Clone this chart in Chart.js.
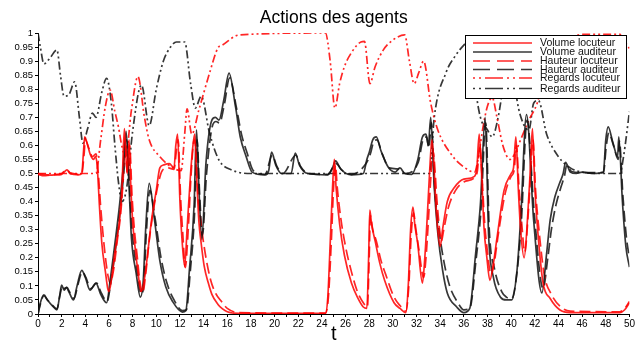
<!DOCTYPE html>
<html><head><meta charset="utf-8">
<script src="https://cdn.jsdelivr.net/npm/chart.js@4/dist/chart.umd.min.js"></script>
<style>html,body{margin:0;padding:0;background:#fff}#wrap{width:636px;height:342px}</style>
</head><body><div id="wrap"><canvas id="c" width="636" height="342"></canvas></div>
<script>
const chartTitle = "Actions des agents";
const xTitle = "t";
const seriesNames = ["Volume locuteur","Volume auditeur","Hauteur locuteur","Hauteur auditeur","Regards locuteur","Regards auditeur"];

const volLocT = [0,0.5,1,1.5,2,2.2,2.45,2.7,3,3.4,3.7,3.85,3.95,4.2,4.4,4.7,4.85,5.0,5.2,5.4,5.7,5.9,6.0,6.2,6.5,6.9,7.1,7.3,7.45,7.55,7.7,7.85,8.0,8.2,8.45,8.7,8.9,9.2,9.6,10.0,10.3,10.6,11.1,11.5,11.65,11.8,12.0,12.2,12.4,12.6,12.9,13.1,13.25,13.4,13.6,13.8,14.05,14.4,14.7,15.2,15.6,16,17,24.3,24.5,24.7,24.9,25.05,25.2,25.5,25.9,26.5,27,27.5,27.8,27.95,28.05,28.2,28.5,28.9,29.3,30.1,30.6,31.1,31.3,31.5,31.7,31.85,32.1,32.5,32.7,32.9,33.1,33.3,33.45,33.6,33.8,34.0,34.2,34.6,35.2,36,36.9,37.1,37.3,37.5,37.7,37.95,38.2,38.5,38.8,39.4,40.0,40.2,40.4,40.6,40.8,41.1,41.4,41.6,41.8,42.0,42.3,42.7,43.3,44.1,45,49.2,49.6,50];
const volLocV = [0.497,0.492,0.494,0.495,0.497,0.505,0.513,0.5,0.497,0.495,0.5,0.58,0.63,0.6,0.57,0.55,0.56,0.53,0.38,0.25,0.15,0.09,0.08,0.12,0.22,0.34,0.45,0.66,0.55,0.5,0.62,0.45,0.33,0.24,0.15,0.08,0.1,0.19,0.335,0.44,0.52,0.53,0.535,0.52,0.6,0.64,0.4,0.25,0.17,0.3,0.5,0.6,0.64,0.5,0.33,0.25,0.17,0.11,0.07,0.035,0.018,0.008,0.002,0.002,0.06,0.25,0.45,0.55,0.45,0.32,0.21,0.11,0.06,0.025,0.02,0.2,0.37,0.32,0.26,0.18,0.12,0.04,0.02,0.005,0.1,0.3,0.38,0.32,0.25,0.11,0.2,0.34,0.5,0.62,0.55,0.42,0.3,0.24,0.3,0.4,0.45,0.48,0.49,0.52,0.64,0.5,0.31,0.2,0.12,0.18,0.27,0.44,0.5,0.52,0.63,0.45,0.3,0.2,0.35,0.5,0.66,0.45,0.27,0.11,0.055,0.015,0.005,0.005,0.015,0.04];

const volAudT = [0,0.2,0.5,0.8,1.2,1.6,1.85,2.0,2.2,2.4,2.6,3.0,3.3,3.7,4.0,4.4,4.9,5.3,5.8,6.1,6.5,6.9,7.2,7.45,7.7,7.9,8.3,8.65,8.9,9.1,9.4,9.85,10.3,10.8,11.4,12.2,12.5,12.8,13.2,13.4,13.6,13.85,14.2,14.7,15.0,15.3,15.7,16.15,16.7,17.1,17.6,18.1,19.2,19.5,19.75,20.1,20.6,21.4,21.75,22.1,22.8,24.5,24.9,25.15,25.6,26.5,27.5,27.8,28.0,28.3,28.6,29.0,29.6,30.2,30.6,31.0,31.6,32.1,32.5,32.8,33.0,33.2,33.5,33.8,34.2,34.6,35.4,36.0,36.5,37.0,37.4,37.8,38.1,38.5,39.1,39.6,40.05,40.5,40.8,41.3,41.9,42.6,43.0,43.3,43.7,44.1,44.4,44.6,45.0,45.5,46.0,47.0,47.8,48.0,48.2,48.6,49.0,49.1,49.4,49.7,50];
const volAudV = [0,0.04,0.068,0.05,0.03,0.015,0.07,0.103,0.085,0.095,0.08,0.05,0.1,0.155,0.13,0.085,0.11,0.07,0.04,0.12,0.25,0.39,0.52,0.65,0.45,0.27,0.145,0.06,0.12,0.3,0.465,0.335,0.19,0.097,0.043,0.007,0.012,0.157,0.39,0.655,0.45,0.265,0.537,0.69,0.70,0.69,0.76,0.857,0.737,0.63,0.56,0.505,0.495,0.51,0.576,0.53,0.5,0.5,0.573,0.53,0.5,0.495,0.52,0.545,0.515,0.495,0.5,0.55,0.575,0.62,0.63,0.58,0.523,0.505,0.52,0.5,0.497,0.548,0.63,0.64,0.6,0.70,0.45,0.288,0.157,0.075,0.025,0.005,0.02,0.216,0.39,0.7,0.274,0.13,0.06,0.05,0.05,0.157,0.335,0.71,0.335,0.075,0.216,0.335,0.417,0.466,0.5,0.54,0.505,0.5,0.505,0.5,0.505,0.62,0.666,0.61,0.56,0.63,0.405,0.24,0.167];

const hautLocT = [0,0.5,1,1.5,2,2.2,2.45,2.7,3,3.4,3.7,3.9,4.0,4.3,4.6,4.9,5.1,5.3,5.6,5.9,6.1,6.4,6.7,7.0,7.2,7.4,7.55,7.75,7.95,8.15,8.4,8.6,8.85,9.1,9.4,9.8,10.2,10.5,11.0,11.5,11.7,11.85,12.05,12.25,12.45,12.7,12.95,13.2,13.35,13.55,13.85,14.2,14.6,15.0,15.5,16,17,24.3,24.55,24.8,25.0,25.15,25.3,25.6,26.0,26.5,27,27.5,27.85,28.0,28.1,28.3,28.6,29.0,29.4,30.1,30.6,31.1,31.35,31.55,31.75,31.95,32.2,32.6,32.8,33.0,33.2,33.4,33.55,33.7,33.9,34.1,34.3,34.7,35.3,36,36.9,37.15,37.35,37.55,37.75,38.0,38.3,38.6,38.9,39.5,40.0,40.25,40.45,40.65,40.9,41.15,41.45,41.65,41.85,42.05,42.35,42.8,43.4,44.2,45,49.2,49.6,50];
const hautLocV = [0.5,0.497,0.495,0.497,0.5,0.507,0.513,0.503,0.5,0.497,0.5,0.57,0.62,0.59,0.56,0.57,0.5,0.38,0.24,0.14,0.11,0.16,0.26,0.36,0.48,0.62,0.5,0.6,0.42,0.3,0.2,0.12,0.075,0.14,0.26,0.38,0.47,0.51,0.52,0.515,0.58,0.62,0.42,0.28,0.165,0.3,0.5,0.62,0.58,0.42,0.3,0.2,0.12,0.075,0.045,0.02,0.005,0.003,0.06,0.26,0.46,0.53,0.45,0.34,0.24,0.15,0.08,0.04,0.025,0.2,0.35,0.3,0.26,0.19,0.14,0.06,0.03,0.01,0.1,0.28,0.36,0.3,0.23,0.13,0.2,0.33,0.48,0.58,0.52,0.42,0.32,0.26,0.3,0.38,0.44,0.47,0.485,0.51,0.6,0.48,0.33,0.22,0.14,0.19,0.28,0.43,0.49,0.51,0.6,0.46,0.32,0.22,0.36,0.5,0.62,0.45,0.3,0.14,0.07,0.025,0.01,0.008,0.02,0.045];

const hautAudT = [0,0.2,0.5,0.8,1.2,1.6,1.85,2.05,2.25,2.45,2.65,3.05,3.35,3.75,4.05,4.45,4.95,5.35,5.85,6.15,6.55,6.95,7.25,7.5,7.75,7.95,8.35,8.75,8.95,9.15,9.45,9.9,10.4,10.9,11.5,12.2,12.55,12.85,13.25,13.45,13.65,13.9,14.25,14.75,15.05,15.35,15.75,16.2,16.75,17.2,17.7,18.2,19.2,19.8,20.2,20.7,21.8,22.2,22.9,24.5,25.2,25.7,26.5,27.8,28.1,28.35,28.65,29.1,29.7,30.7,31.0,32.15,32.55,32.85,33.05,33.25,33.55,33.9,34.3,34.8,35.5,36.0,36.5,37.05,37.45,37.85,38.15,38.6,39.2,39.6,40.05,40.5,40.85,41.35,41.95,42.7,43.1,43.4,43.8,44.2,44.5,44.7,45.1,46,47.8,48.05,48.25,48.65,49.05,49.15,49.45,49.75,50];
const hautAudV = [0,0.035,0.065,0.05,0.032,0.018,0.065,0.1,0.09,0.095,0.08,0.055,0.1,0.15,0.13,0.09,0.11,0.075,0.045,0.11,0.23,0.37,0.5,0.62,0.45,0.3,0.16,0.07,0.11,0.28,0.44,0.34,0.2,0.11,0.05,0.012,0.015,0.14,0.37,0.62,0.44,0.28,0.5,0.67,0.685,0.68,0.745,0.84,0.74,0.64,0.57,0.51,0.497,0.565,0.525,0.5,0.565,0.525,0.5,0.497,0.535,0.512,0.497,0.54,0.57,0.61,0.62,0.57,0.52,0.515,0.5,0.54,0.62,0.63,0.59,0.68,0.44,0.3,0.19,0.1,0.04,0.015,0.02,0.2,0.37,0.68,0.3,0.16,0.08,0.06,0.055,0.15,0.32,0.69,0.36,0.09,0.2,0.3,0.39,0.45,0.49,0.53,0.507,0.503,0.503,0.6,0.645,0.6,0.55,0.615,0.42,0.27,0.2];

const regLocT = [0,4.9,5.3,5.7,6.1,6.5,6.8,7.1,7.4,7.9,8.45,9.0,9.4,10.3,11.4,12.1,12.4,12.6,13.0,13.6,14.5,15.2,15.6,17,24.3,24.7,25.1,25.5,25.9,26.5,27.3,27.6,28.06,28.5,29.2,30,31,31.4,31.8,32.2,32.6,33.2,33.8,34.9,36,36.9,37.2,37.6,38.0,38.4,38.8,39.3,39.9,40.3,40.8,41.5,42.2,43,44,45,46,49.2,49.6,50];
const regLocV = [0.5,0.5,0.62,0.74,0.797,0.72,0.666,0.595,0.56,0.726,0.845,0.7,0.62,0.56,0.52,0.51,0.64,0.73,0.64,0.726,0.857,0.946,0.957,0.993,1.0,0.9,0.733,0.82,0.88,0.93,0.968,0.97,0.82,0.88,0.94,0.975,0.993,0.9,0.82,0.86,0.9,0.75,0.655,0.57,0.523,0.505,0.55,0.66,0.74,0.77,0.7,0.6,0.55,0.57,0.62,0.69,0.75,0.88,0.95,0.98,0.995,0.995,0.97,0.945];

const regAudT = [0,0.2,0.5,1.0,1.6,1.9,2.2,2.6,3.1,3.5,3.8,4.2,4.6,4.9,5.4,5.8,6.2,6.5,6.8,7.1,7.5,8.0,8.75,9.4,10.0,10.6,11.2,11.7,12.4,12.9,13.3,13.8,14.5,15.3,16.4,18,33.1,33.5,34.5,35.3,36,36.6,37.0,37.4,38.0,38.4,38.9,39.5,40.1,40.5,41.0,41.5,41.9,42.3,43,44,45,46,48,49.2,49.5,50];
const regAudV = [1.0,0.95,0.89,0.91,0.94,0.85,0.775,0.78,0.826,0.7,0.608,0.66,0.715,0.70,0.79,0.839,0.75,0.6,0.47,0.4,0.45,0.65,0.815,0.67,0.8,0.9,0.95,0.968,0.968,0.82,0.733,0.775,0.644,0.548,0.512,0.5,0.5,0.7,0.86,0.92,0.957,0.98,0.8,0.7,0.655,0.63,0.7,0.85,0.9,0.76,0.68,0.655,0.75,0.76,0.64,0.56,0.52,0.505,0.5,0.5,0.56,0.72];

const xTicksMin = 0, xTicksMax = 50, xStep = 1;
const yTicksMin = 0, yTicksMax = 1, yStep = 0.05;

const RED = 'rgba(255,0,0,0.85)';
const BLK = 'rgba(20,20,20,0.85)';
const DASH = [11,5];
const DDOT = [8,3,2,3,2,3];
const LEG_DASH = [17,7];
const LEG_DDOT = [2,4,2,4,18,4];

function pts(t,v){ return t.map((x,i)=>({x:x,y:v[i]})); }

const datasets = [
  {label:seriesNames[0], data:pts(volLocT,volLocV), borderColor:RED, borderDash:[]},
  {label:seriesNames[1], data:pts(volAudT,volAudV), borderColor:BLK, borderDash:[]},
  {label:seriesNames[2], data:pts(hautLocT,hautLocV), borderColor:RED, borderDash:DASH},
  {label:seriesNames[3], data:pts(hautAudT,hautAudV), borderColor:BLK, borderDash:DASH},
  {label:seriesNames[4], data:pts(regLocT,regLocV), borderColor:RED, borderDash:DDOT},
  {label:seriesNames[5], data:pts(regAudT,regAudV), borderColor:BLK, borderDash:DDOT}
].map(d=>Object.assign(d,{borderWidth:1.7,pointRadius:0,fill:false,cubicInterpolationMode:'monotone'}));
const legendDash = [[],[],LEG_DASH,LEG_DASH,LEG_DDOT,LEG_DDOT];

const FONT = "'Liberation Sans', Arial, sans-serif";

const decor = {
  id:'decor',
  afterDraw(chart){
    const ctx = chart.ctx, ca = chart.chartArea;
    ctx.save();
    ctx.fillStyle = '#000';
    ctx.textAlign='center'; ctx.textBaseline='middle';
    ctx.font = "17.5px " + FONT;
    ctx.fillText(chartTitle, (ca.left+ca.right)/2, 18);
    ctx.font = "20px " + FONT;
    ctx.fillText(xTitle, (ca.left+ca.right)/2, 334);
    const bx=465, by=35, bw=161, bh=63;
    ctx.fillStyle='#fff'; ctx.fillRect(bx,by,bw,bh);
    ctx.strokeStyle='#000'; ctx.lineWidth=1; ctx.setLineDash([]);
    ctx.strokeRect(bx+0.5,by+0.5,bw,bh);
    const rows=[43,52,61,69.5,78,88.5];
    ctx.font = "10.5px " + FONT; ctx.textAlign='left';
    chart.data.datasets.forEach((d,i)=>{
      ctx.strokeStyle=d.borderColor; ctx.lineWidth=1.7; ctx.setLineDash(legendDash[i]);
      ctx.beginPath(); ctx.moveTo(473,rows[i]); ctx.lineTo(532,rows[i]); ctx.stroke();
      ctx.fillStyle='#111'; ctx.fillText(d.label, 540, rows[i]+0.5);
    });
    ctx.restore();
  }
};

new Chart(document.getElementById('c'), {
  type:'line',
  data:{datasets},
  options:{
    responsive:false, animation:false,
    layout:{autoPadding:false, padding:{top:33,right:2,left:0,bottom:0}},
    plugins:{legend:{display:false}, title:{display:false}, tooltip:{enabled:false}},
    scales:{
      x:{type:'linear', min:xTicksMin, max:xTicksMax,
         afterFit(s){ s.height=28; },
         border:{color:'#000',width:1},
         grid:{display:true, drawOnChartArea:false, drawTicks:true, tickLength:3, color:'#000'},
         ticks:{stepSize:xStep, autoSkip:false, maxRotation:0, padding:1, color:'#000', font:{size:10, family:FONT},
           callback:(v)=> (Math.round(v)%2===0 ? String(Math.round(v)) : '')}},
      y:{type:'linear', min:yTicksMin, max:yTicksMax,
         afterFit(s){ s.width=38; },
         border:{color:'#000',width:1},
         grid:{display:true, drawOnChartArea:false, drawTicks:true, tickLength:3, color:'#000'},
         ticks:{stepSize:yStep, autoSkip:false, padding:2, color:'#000', font:{size:9.5, family:FONT},
           callback:(v)=> String(Number(v.toFixed(2)))}}
    }
  },
  plugins:[decor]
});
</script></body></html>
